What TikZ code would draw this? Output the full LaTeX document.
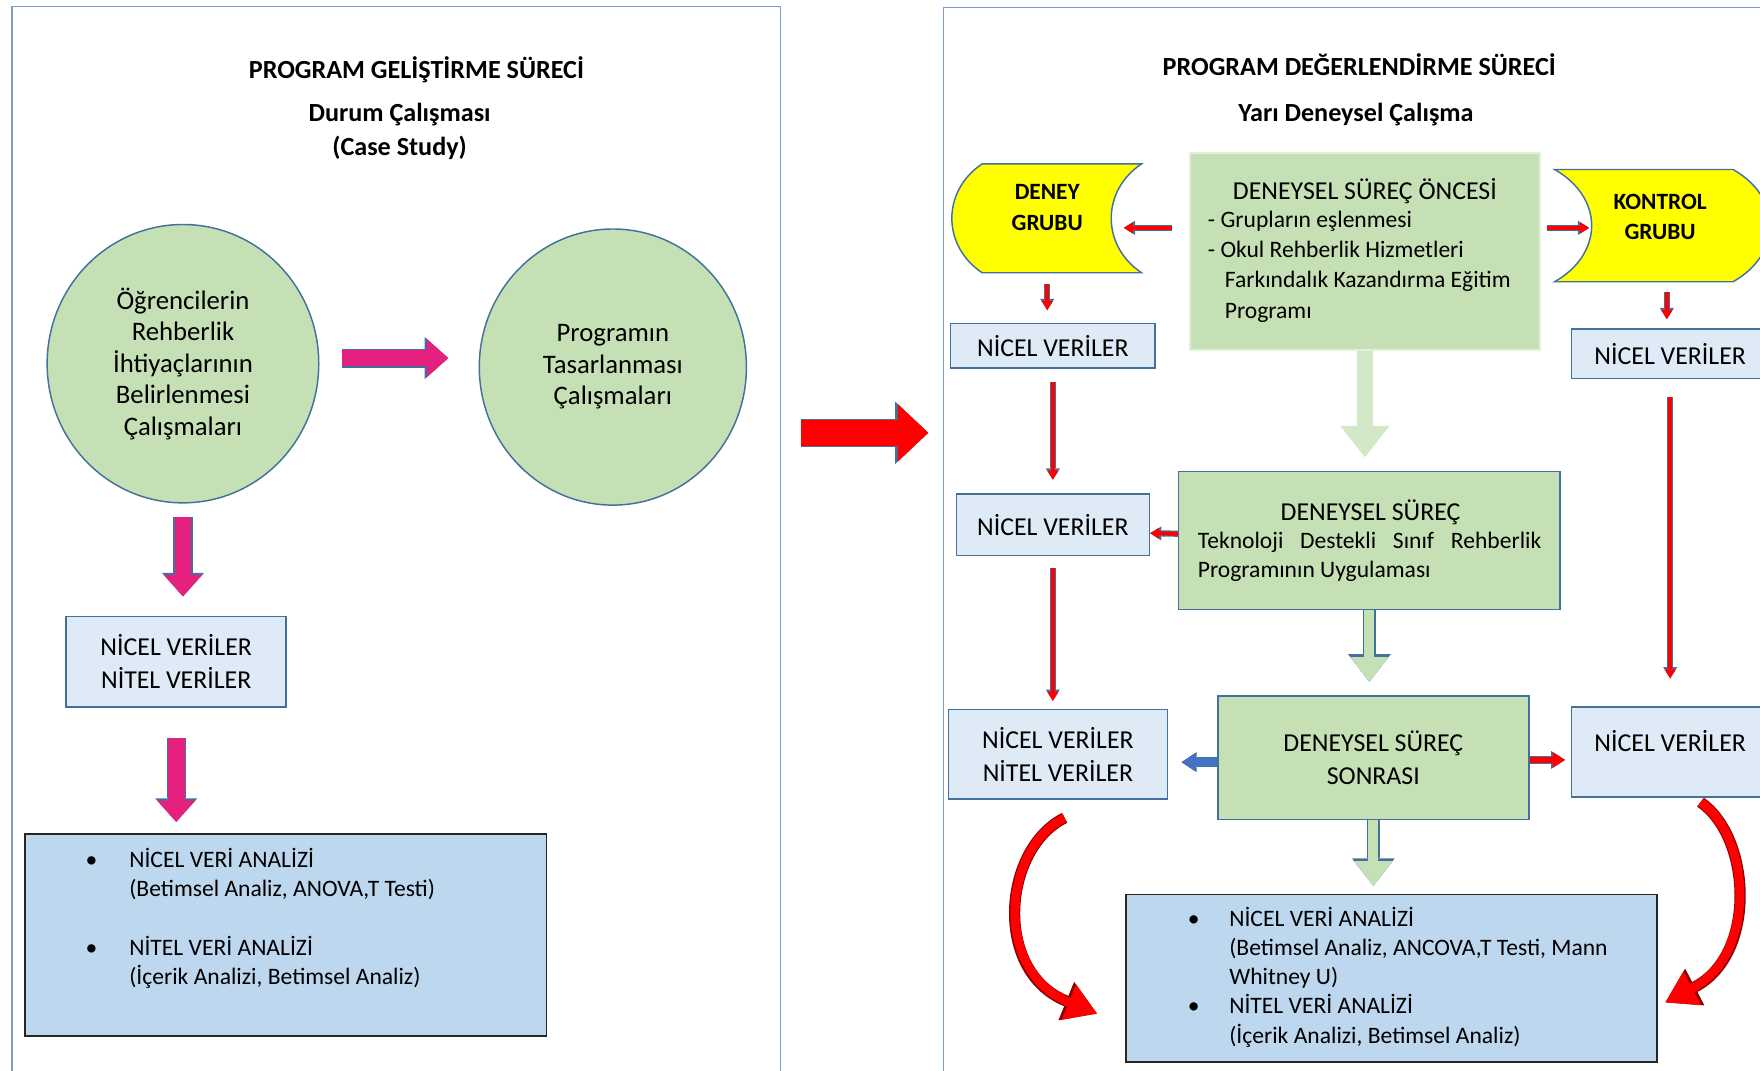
\documentclass[tikz,border=0pt]{standalone}
\usepackage{fontspec}
\setmainfont{Carlito}
\usepackage{xcolor}
\usepackage{tikz}
\usetikzlibrary{arrows.meta,positioning,shapes.geometric,calc}
\definecolor{frameblue}{HTML}{7F9CC6}
\definecolor{edgeblue}{HTML}{41719C}
\definecolor{leaf}{HTML}{C5E0B4}
\definecolor{paleleaf}{HTML}{D3E8C6}
\definecolor{rose}{HTML}{E6207F}
\definecolor{ice}{HTML}{DEEBF7}
\definecolor{powder}{HTML}{BDD7EE}
\definecolor{lemon}{HTML}{FFFF00}
\definecolor{signal}{HTML}{FF0000}
\definecolor{royal}{HTML}{4472C4}

\begin{document}
\begin{tikzpicture}[x=1pt,y=1pt,
  every node/.style={font=\fontsize{23}{29}\selectfont,align=center,inner sep=0pt},
  headline/.style={font=\bfseries\fontsize{23.3}{31}\selectfont},
  bubble/.style={ellipse,draw=edgeblue,line width=1.3pt,fill=leaf,font=\fontsize{23.8}{28}\selectfont},
  databox/.style={draw=edgeblue,line width=1.3pt,fill=ice},
  phasebox/.style={draw=edgeblue,line width=1.3pt,fill=leaf},
  analysisbox/.style={draw=black!85,line width=1.5pt,fill=powder},
  listtext/.style={align=left,font=\fontsize{21}{26}\selectfont},
  steptext/.style={align=left,font=\fontsize{21}{27}\selectfont},
  groupshape/.style={draw=edgeblue,line width=1.3pt,fill=lemon},
  grouptext/.style={font=\bfseries\fontsize{20.8}{27}\selectfont},
  panel/.style={draw=frameblue,line width=1.2pt,anchor=north west,minimum height=960},
  pinkarrow/.style={line width=15pt,draw=rose,-{Triangle[length=19pt,width=34pt,line width=0pt]},
    preaction={draw=edgeblue,line width=17pt,-{Triangle[length=21pt,width=37.5pt,line width=0pt]}}},
  bigarrow/.style={line width=23pt,draw=signal,-{Triangle[length=27pt,width=51pt,line width=0pt]},
    preaction={draw=edgeblue,line width=25.5pt,-{Triangle[length=29.5pt,width=55.5pt,line width=0pt]}}},
  fadearrow/.style={line width=14pt,draw=paleleaf,-{Triangle[length=28pt,width=44pt,line width=0pt]}},
  hollowarrow/.style={line width=9pt,draw=leaf,-{Triangle[length=22pt,width=34pt,line width=0pt]},
    preaction={draw=edgeblue,line width=11.5pt,-{Triangle[length=24.5pt,width=38pt,line width=0pt]}}},
  thinarrow/.style={line width=3.5pt,draw=signal,-{Triangle[length=8pt,width=10pt,line width=0pt]},
    preaction={draw=edgeblue,line width=5.5pt,-{Triangle[length=10pt,width=12.5pt,line width=0pt]}}},
  bluearrow/.style={line width=7pt,draw=royal,-{Triangle[length=12pt,width=16pt,line width=0pt]},
    preaction={draw=edgeblue,line width=8.5pt,-{Triangle[length=13.5pt,width=18pt,line width=0pt]}}},
  redarrow/.style={line width=6pt,draw=signal,-{Triangle[length=11pt,width=14pt,line width=0pt]},
    preaction={draw=edgeblue,line width=7.5pt,-{Triangle[length=12.5pt,width=16pt,line width=0pt]}}},
  curvearrow/.style={line width=8pt,draw=signal,-{Triangle[length=27pt,width=34pt,line width=0pt]},
    preaction={draw=signal!55!black,line width=10pt,-{Triangle[length=29.5pt,width=37pt,line width=0pt]}}}]
\path[use as bounding box] (0,0) rectangle (1568,-954);
\clip (0,0) rectangle (1568,-954);

\node[panel,minimum width=685] (lpanel) at (10,-5) {};
\node[panel,minimum width=760] (rpanel) at (840,-6) {};

% program development
\node[headline] (devtitle) at (371,-62) {PROGRAM GELİŞTİRME SÜRECİ};
\node[headline] (devmethod) at (356,-117) {Durum Çalışması\\(Case Study)};
\node[bubble,minimum width=242,minimum height=248] (needs) at (163,-324) {Öğrencilerin\\Rehberlik\\İhtiyaçlarının\\Belirlenmesi\\Çalışmaları};
\node[bubble,minimum width=238,minimum height=246] (design) at (546,-327) {Programın\\Tasarlanması\\Çalışmaları};
\node[databox,minimum width=196,minimum height=81] (devdata) at (157,-589.5) {NİCEL VERİLER\\NİTEL VERİLER};
\node[analysisbox,minimum width=465,minimum height=180] (devanalysis) at (254.5,-833) {};
\node[listtext,anchor=west] (devlist) at (76,-818) {\makebox[39pt][l]{\textbullet}NİCEL VERİ ANALİZİ\\\hspace*{39pt}(Betimsel Analiz, ANOVA,T Testi)\\[26pt]\makebox[39pt][l]{\textbullet}NİTEL VERİ ANALİZİ\\\hspace*{39pt}(İçerik Analizi, Betimsel Analiz)};

\draw[pinkarrow,shorten <=20,shorten >=27] ([yshift=5]needs.east) -- ([yshift=8]design.west);
\draw[pinkarrow,shorten <=12,shorten >=17] (needs.south) -- (needs.south |- devdata.north);
\draw[pinkarrow,shorten <=27,shorten >=10] (devdata.south) -- (devdata.south |- devanalysis.north);

\draw[bigarrow,shorten <=17,shorten >=13] ([yshift=100]lpanel.east) -- ([yshift=101]rpanel.west);

% program evaluation
\node[headline] (evaltitle) at (1211,-58) {PROGRAM DEĞERLENDİRME SÜRECİ};
\node[headline] (evalmethod) at (1208,-102) {Yarı Deneysel Çalışma};

\draw[groupshape] (875,-146) -- (1017,-146) .. controls (981,-170) and (981,-219) .. (1017,-243) -- (875,-243) .. controls (839,-219) and (839,-170) .. (875,-146) -- cycle;
\node[grouptext,minimum width=136,minimum height=97] (expgroup) at (933,-185) {DENEY\\GRUBU};
\draw[groupshape] (1385,-151) -- (1544,-151) .. controls (1588,-176) and (1588,-226) .. (1544,-251) -- (1385,-251) .. controls (1429,-226) and (1429,-176) .. (1385,-151) -- cycle;
\node[grouptext,minimum width=126,minimum height=97] (ctrlgroup) at (1479,-193) {KONTROL\\GRUBU};

\node[phasebox,draw=leaf!50!white,line width=2pt,minimum width=312,minimum height=176] (before) at (1216,-224) {};
\node (beforetitle) at (1216,-170) {DENEYSEL SÜREÇ ÖNCESİ};
\node[steptext,anchor=west] (beforelist) at (1076,-237.5) {- Grupların eşlenmesi\\- Okul Rehberlik Hizmetleri\\\hspace*{15pt}Farkındalık Kazandırma Eğitim\\\hspace*{15pt}Programı};

\node[databox,minimum width=182,minimum height=40] (expdata1) at (938,-308) {NİCEL VERİLER};
\node[databox,minimum width=176,minimum height=44] (ctrldata1) at (1488,-315) {NİCEL VERİLER};
\node[databox,minimum width=172,minimum height=55] (expdata2) at (938,-467.5) {NİCEL VERİLER};
\node[phasebox,minimum width=340,minimum height=123] (during) at (1220,-481.5) {};
\node (duringtitle) at (1221,-456) {DENEYSEL SÜREÇ};
\node[steptext,font=\fontsize{21}{26}\selectfont,anchor=west] (duringtext) at (1067,-496) {\makebox[306pt][s]{Teknoloji Destekli Sınıf Rehberlik}\\Programının Uygulaması};
\node[databox,minimum width=195,minimum height=80] (expdata3) at (942.5,-672) {NİCEL VERİLER\\NİTEL VERİLER};
\node[phasebox,minimum width=277,minimum height=110] (after) at (1223.5,-675) {DENEYSEL SÜREÇ\\SONRASI};
\node[databox,minimum width=176,minimum height=80,text depth=20pt] (ctrldata2) at (1488,-670) {NİCEL VERİLER};
\node[analysisbox,minimum width=473,minimum height=149] (evalanalysis) at (1239.5,-871.5) {};
\node[listtext,anchor=west] (evallist) at (1058,-870.5) {\makebox[37pt][l]{\textbullet}NİCEL VERİ ANALİZİ\\\hspace*{37pt}(Betimsel Analiz, ANCOVA,T Testi, Mann\\\hspace*{37pt}Whitney U)\\\makebox[37pt][l]{\textbullet}NİTEL VERİ ANALİZİ\\\hspace*{37pt}(İçerik Analizi, Betimsel Analiz)};

\draw[thinarrow,shorten <=15] ([yshift=21]before.west) -- ([yshift=-18]expgroup.east);
\draw[thinarrow,shorten <=5] ([yshift=21]before.east) -- ([yshift=-10]ctrlgroup.west);
\draw[thinarrow,shorten <=19.5,shorten >=11] (expgroup.south) -- (expgroup.south |- expdata1.north);
\draw[thinarrow,shorten <=18.5,shorten >=8] ([xshift=6]ctrlgroup.south) -- ([xshift=6]ctrlgroup.south |- ctrldata1.north);
\draw[fadearrow,shorten >=12] (before.south) -- (before.south |- during.north);
\draw[thinarrow,shorten <=12,shorten >=12] (expdata1.south) -- (expdata1.south |- expdata2.north);
\draw[thinarrow] ([yshift=6]during.west) -- ([yshift=-7.5]expdata2.east);
\draw[thinarrow,shorten <=16,shorten >=25] (ctrldata1.south) -- (ctrldata1.south |- ctrldata2.north);
\draw[hollowarrow,shorten >=12] (during.south) -- (during.south |- after.north);
\draw[thinarrow,shorten <=10,shorten >=7] (expdata2.south) -- (expdata2.south |- expdata3.north);
\draw[bluearrow,shorten >=12] ([yshift=-4]after.west) -- ([yshift=-7]expdata3.east);
\draw[redarrow,shorten >=5] ([yshift=-2]after.east) -- ([yshift=-7]ctrldata2.west);
\draw[hollowarrow,shorten >=7] (after.south) -- (after.south |- evalanalysis.north);
\draw[curvearrow] ([xshift=6,yshift=-16]expdata3.south) .. controls +(-55,-27) and +(-93,38) .. ([xshift=-25,yshift=-31.5]evalanalysis.west);
\draw[curvearrow] ([xshift=27,yshift=-4]ctrldata2.south) .. controls +(45,-31) and +(82,43) .. ([xshift=7,yshift=-21.5]evalanalysis.east);
\end{tikzpicture}
\end{document}
